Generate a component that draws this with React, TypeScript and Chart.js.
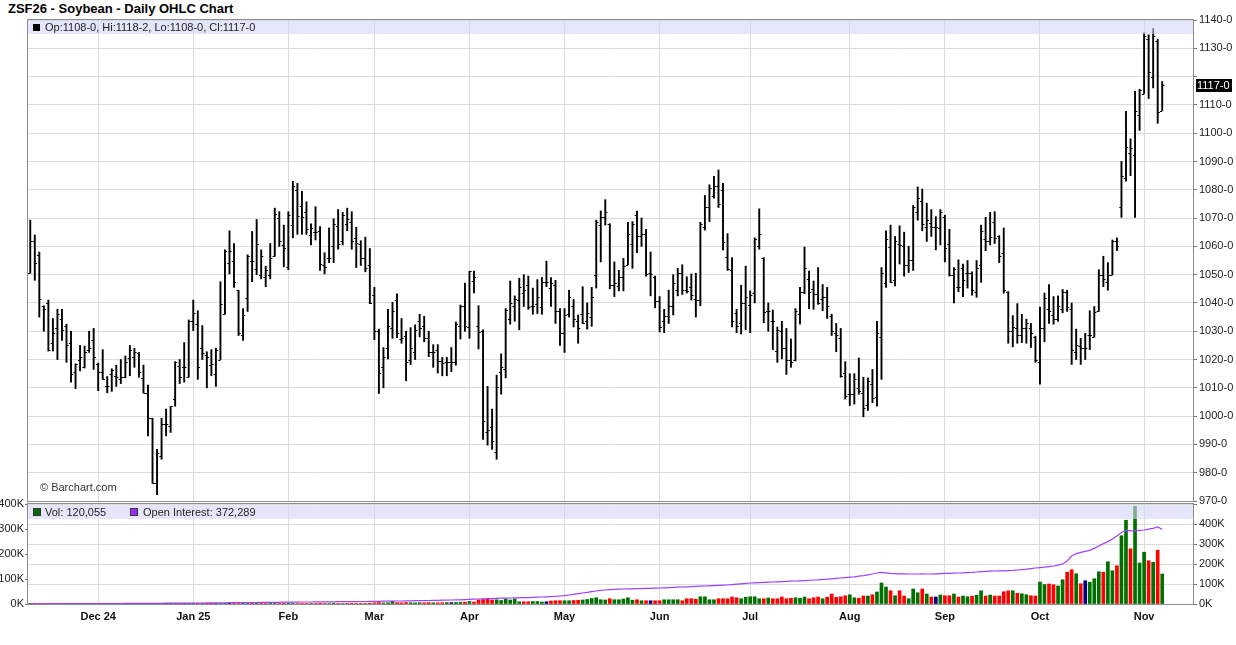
import React, { useEffect, useRef } from 'react';
import { Chart, registerables } from 'chart.js';
Chart.register(...registerables);

// ---------- data (one entry per trading day, index 0 = first bar) ----------
const OPEN = [1050.5,1062,1057,1039,1040,1025.75,1031,1034.5,1032,1025.75,1015.5,1020,1017.25,1023.5,1027,1018.5,1015.75,1010.75,1015,1014.25,1013,1014,1020.5,1020.75,1022.25,1013.5,1008,999.25,976.25,986,997.25,996.5,1006,1017.75,1017.5,1013.75,1033.5,1032.5,1024.25,1021.5,1018,1015,1020,1036,1054,1054.75,1044.5,1028.75,1041.75,1054.75,1052,1049.75,1049,1049.75,1056.5,1070,1060.5,1052.75,1067.5,1080,1074.25,1072,1064,1065,1065.5,1053.5,1055.75,1060,1067.25,1062,1068,1068.5,1063,1061,1055.75,1053.25,1042.75,1030.25,1017.25,1024,1031,1041,1027.25,1028.25,1020,1022.5,1033.5,1032,1027.5,1022.75,1023.5,1019.5,1019.25,1019,1019,1032,1038.75,1031.5,1047.75,1032,1030.25,994.25,996,987.25,1015.5,1016.5,1034.25,1038.75,1041,1043.5,1046.25,1038.75,1039.5,1038.5,1047.25,1045.25,1046.25,1037,1029.25,1036,1038.75,1033.5,1036,1033.5,1035,1050,1067.5,1070.25,1068,1046.25,1046,1049,1053.5,1060.75,1071,1063.5,1064.5,1050.5,1049,1040.75,1033.5,1035.5,1039,1044.75,1050.5,1044.5,1045.5,1041.25,1041,1067,1073.75,1077.75,1081.25,1080,1056.25,1051.5,1036.5,1033,1040,1039.25,1043.5,1060,1056,1037,1033.75,1023,1030.25,1024,1020,1020,1036,1043.75,1048.5,1045,1043.25,1041.25,1042,1035.25,1029.5,1027.5,1015.25,1007.75,1007.75,1010,1008.25,1004,1011.5,1006.75,1028,1047,1059.75,1048,1061,1060,1053.5,1055.25,1072,1076,1066.75,1068.25,1066.75,1066.5,1070.25,1060.75,1050,1045.5,1052.5,1050.5,1050.75,1043.75,1053.5,1062.5,1062,1068.5,1063.5,1057.5,1043.75,1030.25,1031,1028.75,1031,1031,1028,1019,1031,1037.75,1035.75,1034.5,1037.75,1043.75,1037.75,1022.5,1024.75,1024,1028.75,1028,1037,1050,1047.25,1050,1061.75,1073.75,1084,1093,1092.25,1106.5,1114,1133.25,1119.75,1132.5,1108];
const HIGH = [1069.25,1064,1058,1039,1041,1034.5,1037.75,1037.75,1032.5,1030,1018.5,1025,1024.75,1030,1031,1018.75,1023.5,1014,1016.75,1018,1020,1021.25,1025,1024,1022.5,1018,1011,999.25,988.25,999.25,1002.5,1003.5,1019.25,1020,1026,1034,1041,1037.25,1032,1022.75,1023.5,1024,1047.5,1058.75,1065.5,1061,1044.5,1038,1057,1065.25,1069.5,1058.75,1053,1061,1073.5,1072.25,1067.5,1072.25,1083,1082.25,1079.5,1075.75,1068,1074,1067,1057.75,1066.5,1069.75,1073,1072,1073.5,1072.25,1066.75,1062,1063.25,1059.25,1045.5,1030.75,1024.25,1037.75,1040.25,1043.25,1034.5,1030,1031.25,1032.25,1036,1035.25,1030,1025.25,1025.25,1020.75,1020.75,1024.25,1033.25,1039.25,1047,1051.25,1051.25,1039,1030.5,1010.5,1002.5,1014.5,1022,1038,1047.75,1042.5,1048.75,1050,1049.5,1045.25,1048.25,1049,1054.75,1049,1048,1038,1038,1044.5,1041.25,1035.75,1045.75,1040,1045.5,1069.25,1072.5,1076.5,1068,1054.5,1051.5,1055.75,1068.5,1068.75,1072.5,1070,1066,1058,1049.5,1042.25,1037.75,1044.5,1050,1052.25,1053.5,1049.25,1050.25,1050.5,1068.5,1078,1081.75,1084.75,1087,1082.25,1064.5,1056,1037.75,1046.25,1053,1044.25,1063,1073.25,1056,1040,1037.5,1031.5,1033.5,1031,1027.25,1038,1045.5,1059.75,1051.25,1047.75,1052.5,1046.5,1045.5,1036,1032.75,1031,1019.25,1015,1015,1020.5,1013.75,1013.5,1016.5,1033.5,1052.5,1065.5,1067.5,1063.5,1067.25,1065,1060,1074.5,1081,1080.25,1075.25,1073,1070.5,1073,1071,1066,1052.5,1055.25,1053.75,1055,1051,1055,1067.5,1070.25,1072,1072.25,1063.75,1066.5,1044,1035.5,1039.75,1036,1034.25,1032.75,1028.25,1038.5,1043.5,1046.5,1042.25,1042.5,1044.75,1044.5,1040,1030.75,1027.5,1029.25,1037.25,1038.75,1051.75,1056.5,1054.25,1062.25,1063,1090,1107.75,1098,1114.75,1115.5,1135.5,1134.75,1137,1133.25,1118.25];
const LOW = [1050.5,1048,1035,1030,1023,1023,1020,1026.75,1019,1012,1009.75,1016,1017,1022.5,1016.5,1009,1013,1008.25,1008.75,1010.5,1011.5,1013.5,1014.25,1017.25,1013.75,1008.25,993,976.25,972.25,984.75,993,994.25,1003.5,1011.5,1012,1013.75,1030.25,1013,1020,1010,1014.25,1010.5,1020,1036,1050.25,1045.5,1028.5,1026.75,1037,1047.5,1050,1048.5,1045.75,1048.5,1056.5,1060,1052.75,1051.75,1063,1064.25,1064.25,1064.25,1060.5,1062.25,1051.5,1050.25,1054.25,1054.25,1059,1060.5,1065.5,1059,1052.5,1053.25,1051,1039.75,1027,1008,1010,1020.25,1027.5,1027.75,1025.75,1012.5,1018.25,1020,1028,1026.25,1021,1017.25,1015.25,1014.25,1014.25,1015.75,1018,1027.25,1030,1027.5,1043.5,1023.75,991.75,989.75,988.25,984.75,1007.75,1013.5,1032.5,1033.5,1030.5,1038.75,1037.75,1036,1036.25,1036,1045.75,1038.75,1032.75,1025,1022.5,1035,1031.5,1025.75,1032.75,1030.75,1031.75,1045.25,1054.5,1067.5,1045,1042.25,1044.25,1044.25,1053.5,1052.25,1057.75,1060,1049.5,1042.5,1038.25,1029.75,1029.5,1032.75,1035.75,1042.5,1043,1043.5,1041,1035,1039,1065.75,1068.75,1077,1073.75,1058.75,1051.5,1031.5,1029.5,1029,1030.5,1029.5,1040,1059,1033,1030,1023.5,1019,1020.25,1014.75,1017.25,1019.5,1032.5,1043.25,1038,1037.75,1039.5,1037.25,1034.5,1028.5,1022.75,1013.75,1006,1003.75,1004.25,1007.75,999.75,1002,1004.75,1003.5,1013,1045.5,1047.25,1046,1053.75,1049.5,1050.75,1051.5,1069.25,1065.5,1061.75,1063.5,1058.75,1060.5,1054.5,1049.5,1040,1044,1042.25,1045.25,1042.75,1042,1047.25,1058.5,1060.5,1061,1054.25,1043.5,1025.75,1024.5,1025.75,1026,1025.75,1024.25,1019,1011.25,1026.25,1032.75,1032.5,1033.5,1036.5,1037,1018.25,1020,1018.25,1020,1023.5,1028,1037,1045.75,1044.5,1050,1058.5,1070.25,1083,1085,1070.25,1101,1114,1112.25,1116,1103.5,1108];
const CLOSE = [1062,1054,1041.5,1038,1023.5,1029.5,1036,1030.5,1025,1015,1018.5,1021,1022.75,1024,1020.75,1015.5,1013,1010.75,1016.25,1014,1013.75,1019.25,1023.5,1022.75,1015.75,1008.25,999.25,976.5,987,997.25,997.25,1003.5,1019,1013.75,1017.25,1033.5,1036.5,1017.5,1022.25,1020.75,1018.5,1023.5,1039.5,1058.5,1058.5,1047.25,1029.25,1035.75,1056.5,1054.75,1061,1056.5,1051.75,1055.75,1071.5,1062,1059.25,1071,1081.25,1070.75,1070.25,1066,1066.5,1065,1053.75,1052.75,1055.75,1068,1061,1071.25,1069.75,1062,1061.25,1055.75,1052.5,1040,1030,1015.25,1020.75,1032,1037.25,1029.25,1027.5,1019,1024,1030.5,1031,1027.5,1022.5,1022.75,1019.5,1018.75,1019,1019,1032.5,1039,1032,1051.25,1049,1029.75,998.25,995,991.25,1010.25,1017.25,1037.5,1040,1041.5,1045.5,1044.5,1038.5,1039,1042,1047.25,1047.25,1047,1037,1029.25,1035.75,1042,1034.25,1031,1033,1036.5,1042,1068.5,1070.25,1072,1046.5,1047,1049,1053,1064.5,1068,1063.5,1064.5,1050.25,1050.25,1040.75,1031.5,1035.5,1039,1047,1050.5,1044.5,1044.25,1042.75,1041,1067.75,1073.75,1080.5,1081.25,1075,1061.5,1052,1033.5,1032,1040,1042.25,1042.75,1062.5,1064.5,1036.75,1037.25,1033.5,1030.5,1024,1020,1019,1037.25,1043.75,1052.5,1043.75,1043.25,1040,1042,1039,1030,1028.5,1014.25,1007,1007.75,1013,1009,1003,1012.5,1006.25,1029.25,1050.5,1062.5,1047.5,1061.75,1060.5,1053.5,1055.25,1073.75,1077,1068,1069.25,1066.75,1066.75,1072.25,1059.25,1049.75,1052,1045.5,1048,1050.75,1044.5,1052.25,1065.5,1062,1063.25,1063,1056.5,1044.5,1030.25,1031.5,1028.75,1031,1032.75,1029.5,1020,1031,1041.75,1037,1034.25,1039,1044,1038.5,1023.25,1025.25,1024,1024,1028.75,1036.75,1050,1048.5,1050,1062,1060,1085,1095,1094.75,1107.75,1115.25,1134.25,1121.5,1134.25,1107.5,1117];

// volume and open interest, thousands of contracts
const VOLUME_K = [0.3,0.2,0.4,0.3,0.2,0.3,0.5,0.2,0.3,0.4,0.3,0.2,0.3,0.2,0.1,
  0.4,0.3,0.5,0.6,0.4,0.3,0.5,0.4,0.6,0.5,0.3,0.8,1.2,0.9,0.6,0.4,0.5,0.7,0.6,0.5,0.8,
  0.9,1.1,0.8,0.7,1.0,1.2,2.0,1.6,1.4,1.6,2.2,1.5,1.9,1.3,1.1,1.6,2.0,1.4,2.4,1.8,1.5,
  2.8,2.5,1.9,2.1,1.7,2.3,1.8,2.6,1.9,2.2,2.7,1.8,2.0,2.4,1.6,2.1,2.5,2.2,2.9,
  4.5,5.8,4.2,5.0,11,5.4,4.9,5.8,5.1,4.7,5.3,4.8,5.6,5.0,4.5,5.2,5.9,5.4,6.2,7.0,7.5,
  10,8,16,18,20,16,17,14,20,16,20,9,9,9,10,10,8,9,12,13,13,
  13,13,14,15,16,18,22,25,17,16,21,17,17,20,25,15,17,13,13,13,13,
  13,17,17,17,17,13,21,21,19,29,29,17,17,21,21,21,28,25,21,27,
  29,29,21,21,24,21,21,28,21,23,25,23,28,21,25,28,21,27,40,27,29,33,
  37,25,23,32,32,37,48,84,68,53,33,53,32,21,60,45,60,40,28,28,36,
  33,33,40,28,32,29,31,35,53,32,36,32,32,49,53,53,43,41,37,33,32,
  88,78,80,77,72,97,127,137,121,81,93,87,101,129,127,169,133,153,273,335,221,391,164,
  207,173,167,215,120.055];
const OPEN_INTEREST_K = [1,1,1,1,1,1.5,1.5,1.5,1.5,1.5,2,2,2,2,2,
  2,2,2.5,2.5,2.5,2.5,3,3,3,3,3,3.5,3.5,3.5,3.5,4,4,4,4,4.5,4.5,
  5,5,5,5.5,5.5,6,6,6,6.5,6.5,7,7,7,7.5,7.5,8,8,8,8.5,8.5,9,
  9,9.5,9.5,10,10,10,10.5,10.5,11,11,11,11.5,11.5,12,12,12,12.5,12.5,13,
  13,13.5,14,14,14.5,15,15,15.5,16,16.5,17,17,17.5,18,18.5,19,19.5,20,20.5,21,22,
  23,24,25,26,27,27,28,29,29,30,31,31,32,32,33,34,35,36,37,38,40,
  42,45,48,52,55,58,62,65,68,70,72,73,74,75,76,76,77,77,78,78,79,
  80,81,82,83,84,85,86,87,88,89,90,91,92,93,94,95,97,99,101,103,
  105,106,107,108,109,110,111,112,113,114,115,116,117,118,120,121,123,124,126,128,130,132,
  134,136,139,142,146,150,155,158,156,153,152,151,151,150,150,150,151,150,150,151,152,
  153,153,154,155,156,157,158,160,162,163,164,165,166,166,167,168,170,172,174,177,180,
  182,184,187,190,194,200,215,240,252,258,263,268,278,290,302,312,325,340,358,368,366,366,368,
  370,374,378,385,372.289];

// month grid positions (bar index of first session of each month) and labels
const MONTH_INDEX = [15, 36, 57, 76, 97, 118, 139, 159, 181, 202, 223, 246];
const MONTH_LABELS = ['Dec 24', 'Jan 25', 'Feb', 'Mar', 'Apr', 'May', 'Jun', 'Jul', 'Aug', 'Sep', 'Oct', 'Nov'];

const TITLE = 'ZSF26 - Soybean - Daily OHLC Chart';
const FONT = '"Liberation Sans", Arial, Helvetica, sans-serif';
const X_MIN = -0.5;
const X_MAX = 256.8;

const fmtPrice = (v: number) => {
  const w = Math.floor(v + 1e-9);
  const e = Math.round((v - w) * 8);
  return `${w}-${e}`;
};

// volume bars take the colour of the day's price change
function volColors(): string[] {
  return CLOSE.map((c, i) => {
    if (i === 0) return '#007000';
    if (c > CLOSE[i - 1]) return '#007000';
    if (c < CLOSE[i - 1]) return '#ff0000';
    return '#000080';
  });
}

export default function App() {
  const priceRef = useRef<HTMLCanvasElement>(null);
  const volRef = useRef<HTMLCanvasElement>(null);

  useEffect(() => {
    Chart.defaults.font.family = FONT;
    Chart.defaults.font.size = 11;
    Chart.defaults.color = '#222';
    const n = CLOSE.length;
    const last = n - 1;

    const frame = {
      id: 'frame',
      afterDatasetsDraw(chart: any) {
        const { ctx, chartArea: a } = chart;
        ctx.save();
        ctx.strokeStyle = '#8c8c8c';
        ctx.lineWidth = 1;
        ctx.strokeRect(Math.round(a.left) - 0.5, Math.round(a.top) - 0.5, Math.round(a.right - a.left) + 1, Math.round(a.bottom - a.top) + 1);
        ctx.restore();
      },
    };

    const ohlcTicks = {
      id: 'ohlcTicks',
      afterDatasetsDraw(chart: any) {
        const { ctx } = chart;
        const x = chart.scales.x;
        const y = chart.scales.y;
        ctx.save();
        ctx.strokeStyle = '#000';
        ctx.lineWidth = 1;
        ctx.beginPath();
        for (let i = 0; i < n; i++) {
          const px = x.getPixelForValue(i);
          const po = Math.round(y.getPixelForValue(OPEN[i])) + 0.5;
          const pc = Math.round(y.getPixelForValue(CLOSE[i])) + 0.5;
          ctx.moveTo(px - 2.2, po);
          ctx.lineTo(px, po);
          ctx.moveTo(px, pc);
          ctx.lineTo(px + 2.2, pc);
        }
        ctx.stroke();
        ctx.restore();
      },
    };

    const priceOverlay = {
      id: 'priceOverlay',
      afterDraw(chart: any) {
        const { ctx, chartArea: a } = chart;
        const y = chart.scales.y;
        ctx.save();
        ctx.fillStyle = 'rgba(213,213,247,0.6)';
        ctx.fillRect(a.left, a.top, a.right - a.left, 14);
        ctx.fillStyle = '#000';
        ctx.fillRect(a.left + 5, a.top + 4, 7, 7);
        ctx.font = `11px ${FONT}`;
        ctx.textBaseline = 'middle';
        ctx.fillStyle = '#222';
        ctx.fillText(`Op:${fmtPrice(OPEN[last])}, Hi:${fmtPrice(HIGH[last])}, Lo:${fmtPrice(LOW[last])}, Cl:${fmtPrice(CLOSE[last])}`, a.left + 17, a.top + 8);
        ctx.fillStyle = '#333';
        ctx.fillText('\u00A9 Barchart.com', a.left + 12, a.bottom - 13);
        const py = Math.round(y.getPixelForValue(CLOSE[last]));
        ctx.fillStyle = '#000';
        ctx.fillRect(a.right + 3, py - 6, 36, 13);
        ctx.fillStyle = '#fff';
        ctx.fillText(fmtPrice(CLOSE[last]), a.right + 4, py + 1);
        ctx.restore();
      },
    };

    const volOverlay = {
      id: 'volOverlay',
      afterDraw(chart: any) {
        const { ctx, chartArea: a } = chart;
        ctx.save();
        ctx.fillStyle = 'rgba(213,213,247,0.6)';
        ctx.fillRect(a.left, a.top + 1, a.right - a.left, 14);
        ctx.font = `11px ${FONT}`;
        ctx.textBaseline = 'middle';
        ctx.fillStyle = '#007000';
        ctx.fillRect(a.left + 5, a.top + 4, 8, 8);
        ctx.strokeStyle = '#333';
        ctx.lineWidth = 1;
        ctx.strokeRect(a.left + 5.5, a.top + 4.5, 7, 7);
        ctx.fillStyle = '#222';
        ctx.fillText(`Vol: ${Math.round(VOLUME_K[last] * 1000).toLocaleString('en-US')}`, a.left + 17, a.top + 8.5);
        ctx.fillStyle = '#9a2cf5';
        ctx.fillRect(a.left + 102, a.top + 4, 8, 8);
        ctx.strokeRect(a.left + 102.5, a.top + 4.5, 7, 7);
        ctx.fillStyle = '#222';
        ctx.fillText(`Open Interest: ${Math.round(OPEN_INTEREST_K[last] * 1000).toLocaleString('en-US')}`, a.left + 115, a.top + 8.5);
        ctx.restore();
      },
    };

    const monthTicks = (s: any) => {
      s.ticks = MONTH_INDEX.map((v) => ({ value: v }));
    };

    const priceChart = new Chart(priceRef.current as HTMLCanvasElement, {
      type: 'bar',
      data: {
        datasets: [
          {
            label: 'High-Low',
            data: HIGH.map((h, i) => ({ x: i, y: [LOW[i], h] })) as any,
            backgroundColor: '#000',
            borderWidth: 0,
            barThickness: 1.25,
            grouped: false,
          } as any,
        ],
      },
      options: {
        responsive: false,
        animation: false,
        events: [],
        layout: { padding: { left: 28, top: 20, right: 0, bottom: 14 } },
        plugins: { legend: { display: false }, tooltip: { enabled: false } },
        scales: {
          x: {
            type: 'linear',
            offset: false,
            min: X_MIN,
            max: X_MAX,
            afterBuildTicks: monthTicks,
            afterFit: (s: any) => { s.height = 0; s.paddingLeft = 0; s.paddingRight = 0; },
            ticks: { display: false },
            grid: { color: '#dcdcdc', drawTicks: false, offset: false },
            border: { display: false },
          },
          y: {
            position: 'right',
            min: 970,
            max: 1140,
            afterFit: (s: any) => { s.width = 43; s.paddingTop = 0; s.paddingBottom = 0; },
            ticks: {
              stepSize: 10,
              padding: 2,
              color: '#222',
              font: { size: 11 },
              callback: (v: any) => (Math.abs(v - CLOSE[last]) < 5 ? '' : `${v}-0`),
            },
            grid: { color: '#dcdcdc', tickLength: 4, tickColor: '#777' },
            border: { display: false },
          },
        },
      },
      plugins: [ohlcTicks, frame, priceOverlay],
    } as any);

    const colors = volColors();
    const volChart = new Chart(volRef.current as HTMLCanvasElement, {
      type: 'bar',
      data: {
        datasets: [
          {
            type: 'line',
            label: 'Open Interest',
            data: OPEN_INTEREST_K.map((v, i) => ({ x: i, y: v })),
            yAxisID: 'yoi',
            borderColor: '#a040ff',
            borderWidth: 1.2,
            pointRadius: 0,
            tension: 0,
            order: 0,
          },
          {
            type: 'bar',
            label: 'Volume',
            data: VOLUME_K.map((v, i) => ({ x: i, y: v })),
            yAxisID: 'yv',
            backgroundColor: colors,
            borderWidth: 0,
            barThickness: 3,
            grouped: false,
            order: 1,
          },
        ],
      },
      options: {
        responsive: false,
        animation: false,
        events: [],
        layout: { padding: { left: 0, top: 14, right: 0, bottom: 0 } },
        plugins: { legend: { display: false }, tooltip: { enabled: false } },
        scales: {
          x: {
            type: 'linear',
            offset: false,
            min: X_MIN,
            max: X_MAX,
            afterBuildTicks: monthTicks,
            afterFit: (s: any) => { s.height = 41; s.paddingLeft = 0; s.paddingRight = 0; },
            ticks: {
              autoSkip: false,
              maxRotation: 0,
              padding: 6,
              color: '#111',
              font: { size: 11, weight: 'bold' },
              callback: (v: any) => MONTH_LABELS[MONTH_INDEX.indexOf(Math.round(v))] ?? '',
            },
            grid: { color: '#dcdcdc', drawTicks: false, offset: false },
            border: { display: false },
          },
          yv: {
            position: 'left',
            min: 0,
            max: 400,
            afterFit: (s: any) => { s.width = 28; s.paddingTop = 0; s.paddingBottom = 0; },
            ticks: { stepSize: 100, padding: 1, color: '#222', callback: (v: any) => `${v}K` },
            grid: { drawOnChartArea: false, tickLength: 3, tickColor: '#777' },
            border: { display: false },
          },
          yoi: {
            position: 'right',
            min: 0,
            max: 500,
            afterFit: (s: any) => { s.width = 43; s.paddingTop = 0; s.paddingBottom = 0; },
            ticks: { stepSize: 100, padding: 2, color: '#222', callback: (v: any) => (v >= 500 ? '' : `${v}K`) },
            grid: { color: '#dcdcdc', tickLength: 4, tickColor: '#777' },
            border: { display: false },
          },
        },
      },
      plugins: [frame, volOverlay],
    } as any);

    return () => {
      priceChart.destroy();
      volChart.destroy();
    };
  }, []);

  return (
    <div style={{ position: 'fixed', left: 0, top: 0, width: 1236, height: 645, background: '#fff', overflow: 'hidden', fontFamily: FONT }}>
      <div style={{ position: 'absolute', left: 8, top: 1, fontWeight: 'bold', fontSize: 13, lineHeight: '15px', color: '#000', whiteSpace: 'nowrap' }}>{TITLE}</div>
      <canvas ref={priceRef} width={1236} height={515} style={{ position: 'absolute', left: 0, top: 0, width: 1236, height: 515 }} />
      <canvas ref={volRef} width={1236} height={155} style={{ position: 'absolute', left: 0, top: 490, width: 1236, height: 155 }} />
    </div>
  );
}
